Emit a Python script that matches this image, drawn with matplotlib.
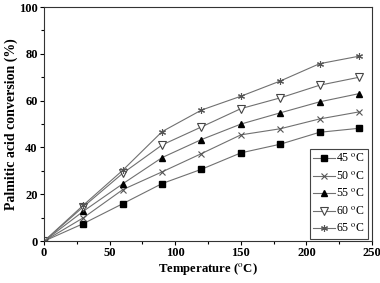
import matplotlib
matplotlib.use("Agg")
import matplotlib.pyplot as plt
from matplotlib.ticker import MultipleLocator

plt.rcParams['font.family'] = ['Liberation Serif', 'DejaVu Serif']
plt.rcParams['mathtext.fontset'] = 'stix'

x = [0, 30, 60, 90, 120, 150, 180, 210, 240]
s45 = [0, 7.5, 16.0, 24.6, 30.7, 37.7, 41.4, 46.5, 48.2]
s50 = [0, 10.0, 22.0, 29.6, 37.4, 45.4, 48.0, 52.2, 55.2]
s55 = [0, 12.8, 24.5, 35.7, 43.4, 50.0, 54.8, 59.5, 63.0]
s60 = [0, 14.7, 29.0, 41.1, 48.8, 56.6, 61.2, 66.6, 70.0]
s65 = [0, 15.4, 30.3, 46.8, 56.0, 61.9, 68.4, 75.8, 79.0]
labels = ['45 $^{\\mathrm{o}}$C', '50 $^{\\mathrm{o}}$C', '55 $^{\\mathrm{o}}$C',
          '60 $^{\\mathrm{o}}$C', '65 $^{\\mathrm{o}}$C']
series = [s45, s50, s55, s60, s65]
markers = [dict(marker='s', mfc='black', mec='black', ms=4),
           dict(marker='x', mfc='none', mec='#555555', ms=5, mew=0.8),
           dict(marker='^', mfc='black', mec='black', ms=5),
           dict(marker='v', mfc='white', mec='#444444', ms=5.5, mew=0.8),
           dict(marker=(6, 2, 0), mfc='none', mec='#555555', ms=5, mew=0.8)]

fig = plt.figure(figsize=(3.8, 2.83), dpi=100)
ax = fig.add_axes([0.116, 0.148, 0.863, 0.827])
for s, lab, m in zip(series, labels, markers):
    ax.plot(x, s, color='#707070', lw=0.8, label=lab, **m)

ax.set_xlim(0, 250)
ax.set_ylim(0, 100)
ax.xaxis.set_major_locator(MultipleLocator(50))
ax.xaxis.set_minor_locator(MultipleLocator(25))
ax.yaxis.set_major_locator(MultipleLocator(20))
ax.yaxis.set_minor_locator(MultipleLocator(10))
ax.tick_params(which='both', direction='out', top=False, right=False, labelsize=9, pad=1.5)
ax.tick_params(which='major', length=3, width=0.8)
ax.tick_params(which='minor', length=2, width=0.8)
for lab in ax.get_xticklabels() + ax.get_yticklabels():
    lab.set_fontweight('bold')
for sp in ax.spines.values():
    sp.set_linewidth(0.8)
    sp.set_color('#333333')
ax.set_xlabel('Temperature ($^{\\mathrm{o}}$C)', fontsize=9.2, fontweight='bold', labelpad=1)
ax.set_ylabel('Palmitic acid conversion (%)', fontsize=10, fontweight='bold', labelpad=1)
leg = ax.legend(loc='lower right', fontsize=8.5, fancybox=False, edgecolor='#444444',
                framealpha=1, handlelength=1.8, handletextpad=0.1, borderpad=0.3,
                labelspacing=0.45, borderaxespad=0, bbox_to_anchor=(0.988, 0.01))
leg.get_frame().set_linewidth(0.8)
fig.savefig('out.png', dpi=100)
